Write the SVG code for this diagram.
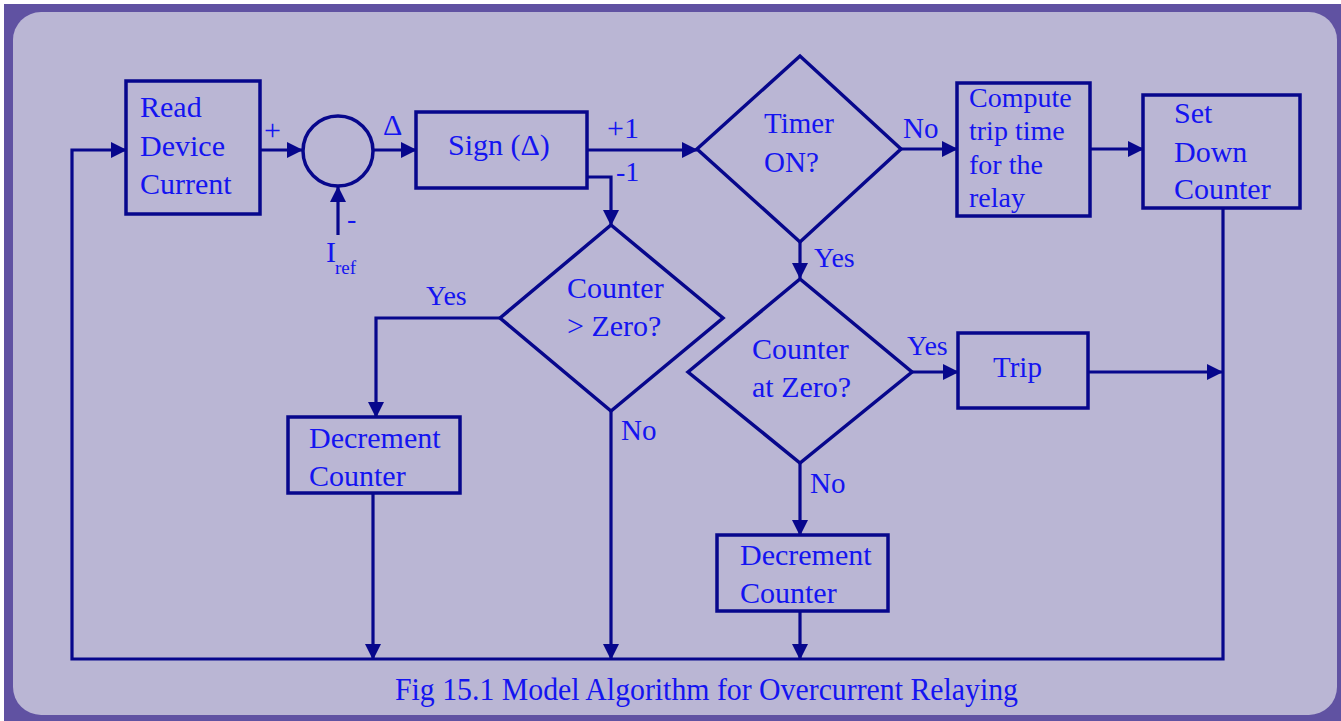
<svg xmlns="http://www.w3.org/2000/svg" width="1341" height="721" viewBox="0 0 1341 721">
<defs>
<marker id="arr" markerUnits="userSpaceOnUse" markerWidth="16" markerHeight="16" refX="15" refY="8" orient="auto">
<path d="M0,0 L16,8 L0,16 z" fill="#07078c"/>
</marker>
<style>
.box{fill:none;stroke:#07078c;stroke-width:3.5}
.ln{fill:none;stroke:#07078c;stroke-width:3.2}
.t{font-family:"Liberation Serif","Times New Roman",serif;fill:#1414f0;font-size:30px}
.s28{font-size:28px}
.s29{font-size:29px}
.sub{font-size:19px}
</style>
</defs>
<rect x="0" y="0" width="1341" height="721" fill="#ffffff"/>
<rect x="4" y="4" width="1337" height="717" fill="#6052a2"/>
<rect x="13" y="12" width="1324" height="703" rx="28" ry="28" fill="#bab6d4"/>

<g id="connectors">
<path class="ln" d="M1223,208 V659 H72 V150 H126" marker-end="url(#arr)"/>
<path class="ln" d="M260,150 H302" marker-end="url(#arr)"/>
<path class="ln" d="M338,235 V187" marker-end="url(#arr)"/>
<path class="ln" d="M373,150 H416" marker-end="url(#arr)"/>
<path class="ln" d="M587,150 H697" marker-end="url(#arr)"/>
<path class="ln" d="M587,177 H611 V225" marker-end="url(#arr)"/>
<path class="ln" d="M901,149 H957" marker-end="url(#arr)"/>
<path class="ln" d="M1090,149 H1143" marker-end="url(#arr)"/>
<path class="ln" d="M800,242 V278" marker-end="url(#arr)"/>
<path class="ln" d="M912,372 H958" marker-end="url(#arr)"/>
<path class="ln" d="M1088,372 H1222" marker-end="url(#arr)"/>
<path class="ln" d="M800,463 V535" marker-end="url(#arr)"/>
<path class="ln" d="M800,611 V659" marker-end="url(#arr)"/>
<path class="ln" d="M500,318 H376 V417" marker-end="url(#arr)"/>
<path class="ln" d="M373,493 V659" marker-end="url(#arr)"/>
<path class="ln" d="M611,411 V659" marker-end="url(#arr)"/>
<text class="t" x="264" y="140">+</text>
<text class="t" x="383" y="135">Δ</text>
<text class="t s28" x="347" y="228">-</text>
<text class="t" x="326" y="262">I</text>
<text class="t sub" x="335" y="274">ref</text>
<text class="t" x="607" y="138">+1</text>
<text class="t s28" x="616" y="181">-1</text>
<text class="t s29" x="903" y="138">No</text>
<text class="t s28" x="814" y="267">Yes</text>
<text class="t s28" x="426" y="305">Yes</text>
<text class="t s29" x="621" y="440">No</text>
<text class="t s28" x="907" y="355">Yes</text>
<text class="t s29" x="810" y="493">No</text>
</g>

<g id="read">
<rect class="box" x="126" y="81" width="134" height="133"/>
<text class="t" x="140" y="117">Read</text>
<text class="t" x="140" y="156">Device</text>
<text class="t" x="140" y="194">Current</text>
</g>
<g id="sum">
<circle class="box" cx="338" cy="151" r="35"/>
</g>
<g id="sign">
<rect class="box" x="416" y="112" width="171" height="76"/>
<text class="t" x="448" y="155">Sign (Δ)</text>
</g>
<g id="timer">
<polygon class="box" points="697,149 800,56 901,149 800,242"/>
<text class="t s29" x="764" y="133">Timer</text>
<text class="t s29" x="764" y="172">ON?</text>
</g>
<g id="compute">
<rect class="box" x="957" y="83" width="133" height="133"/>
<text class="t s28" x="969" y="107">Compute</text>
<text class="t s28" x="969" y="140">trip time</text>
<text class="t s28" x="969" y="174">for the</text>
<text class="t s28" x="969" y="207">relay</text>
</g>
<g id="setdown">
<rect class="box" x="1143" y="95" width="157" height="113"/>
<text class="t" x="1174" y="123">Set</text>
<text class="t" x="1174" y="162">Down</text>
<text class="t" x="1174" y="199">Counter</text>
</g>
<g id="cgz">
<polygon class="box" points="500,318 611,225 723,318 611,411"/>
<text class="t" x="567" y="298">Counter</text>
<text class="t" x="567" y="336">&gt; Zero?</text>
</g>
<g id="dec1">
<rect class="box" x="288" y="417" width="172" height="76"/>
<text class="t" x="309" y="448">Decrement</text>
<text class="t" x="309" y="486">Counter</text>
</g>
<g id="caz">
<polygon class="box" points="688,372 800,279 912,372 800,463"/>
<text class="t" x="752" y="359">Counter</text>
<text class="t" x="752" y="397">at Zero?</text>
</g>
<g id="trip">
<rect class="box" x="958" y="333" width="130" height="75"/>
<text class="t s29" x="993" y="377">Trip</text>
</g>
<g id="dec2">
<rect class="box" x="717" y="535" width="171" height="76"/>
<text class="t" x="740" y="565">Decrement</text>
<text class="t" x="740" y="603">Counter</text>
</g>
<text class="t" x="395" y="700" textLength="623" lengthAdjust="spacingAndGlyphs" style="font-size:32px">Fig 15.1 Model Algorithm for Overcurrent Relaying</text>
</svg>
